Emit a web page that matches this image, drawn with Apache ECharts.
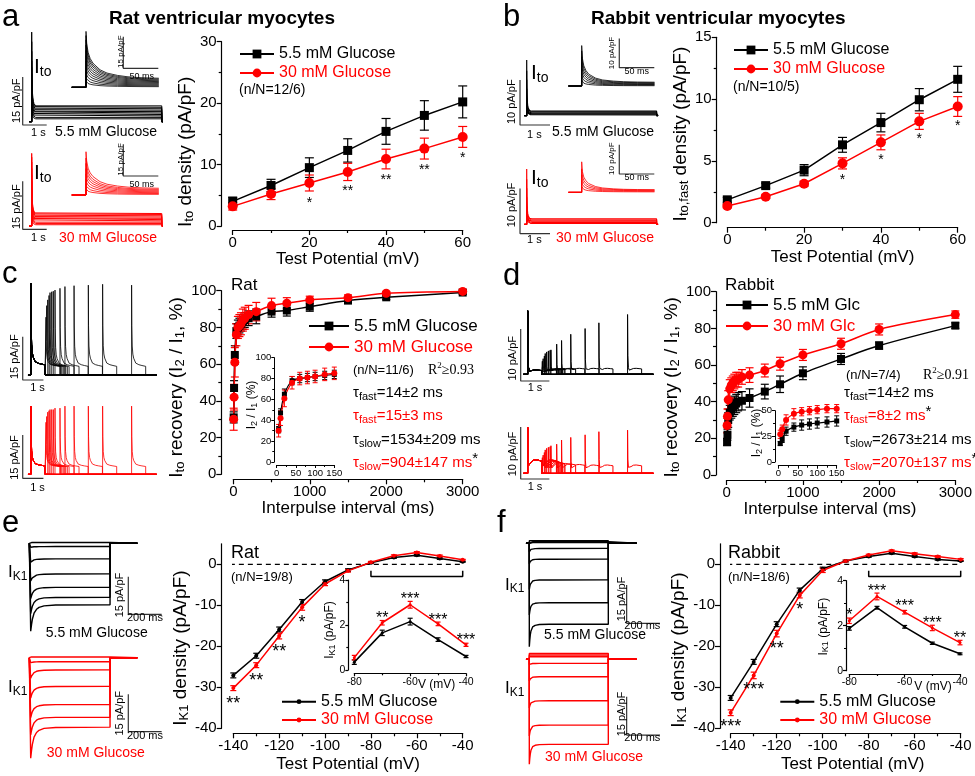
<!DOCTYPE html>
<html><head><meta charset="utf-8">
<script src="https://cdn.jsdelivr.net/npm/echarts@6/dist/echarts.min.js"></script>
<style>html,body{margin:0;padding:0;background:#fff}#c{width:975px;height:776px}</style>
</head><body><div id="c"></div>
<script>
const F = "'Liberation Sans', Arial, Helvetica, sans-serif";
const SERIF = "'Liberation Serif', 'Times New Roman', serif";
const BLK = '#000000', RED = '#ff0000', BAR = '#333333';

// ================= DATA =================
// a: rat Ito density
const aVolt = [0, 10, 20, 30, 40, 50, 60];
const aGlc5 = [4.0, 6.6, 9.5, 12.3, 15.4, 18.0, 20.2];
const aGlc5Err = [0.7, 1.0, 1.6, 1.9, 2.1, 2.4, 2.6];
const aGlc30 = [3.2, 5.2, 7.0, 8.8, 10.9, 12.6, 14.5];
const aGlc30Err = [0.6, 0.9, 1.3, 1.4, 1.6, 1.7, 1.7];
const aStarX = [20, 30, 40, 50, 60];
const aStarY = [4.2, 6.2, 8.0, 9.6, 11.6];
const aStarTxt = ['*', '**', '**', '**', '*'];
// b: rabbit Ito,fast density
const bVolt = [0, 10, 20, 30, 40, 50, 60];
const bGlc5 = [1.85, 3.0, 4.25, 6.3, 8.1, 9.95, 11.6];
const bGlc5Err = [0.2, 0.2, 0.45, 0.6, 0.75, 0.9, 1.05];
const bGlc30 = [1.35, 2.1, 3.15, 4.8, 6.5, 8.2, 9.4];
const bGlc30Err = [0.15, 0.15, 0.2, 0.45, 0.6, 0.65, 0.8];
const bStarX = [30, 40, 50, 60];
const bStarY = [3.7, 5.3, 7.0, 8.1];
const bStarTxt = ['*', '*', '*', '*'];
// c: rat recovery
const cInterval = [5, 10, 20, 40, 60, 80, 100, 125, 150, 200, 300, 500, 700, 1000, 1500, 2000, 3000];
const cGlc5 = [31, 47, 65, 78, 80, 81, 82, 83, 84, 85, 86, 88.6, 89.2, 91.3, 94.6, 96.4, 99];
const cGlc5Err = [3, 4, 5, 4, 4, 4, 4, 4, 4, 4, 4, 3, 3, 2.5, 1.5, 1.2, 1];
const cGlc30 = [30, 42, 61, 76, 80, 81, 82, 84, 85, 87, 88.6, 91.9, 93.2, 95, 96.2, 98.6, 99.6];
const cGlc30Err = [6, 7, 8, 6, 6, 6, 6, 6, 6, 5, 5, 4, 3, 2, 1.5, 1, 1];
// d: rabbit recovery
const dInterval = [5, 10, 20, 40, 60, 80, 100, 125, 150, 200, 300, 500, 700, 1000, 1500, 2000, 3000];
const dGlc5 = [18, 22, 30, 34, 36, 37, 38, 39, 40, 40.5, 42, 45.5, 49.5, 55.5, 63.3, 70.6, 81.5];
const dGlc5Err = [2, 3, 4, 4, 5, 5, 5, 5, 5, 5, 5, 4, 4.5, 3.5, 3, 2, 1.5];
const dGlc30 = [27, 32, 41, 47, 49, 50, 51, 52, 52, 53.5, 54.5, 57, 60.7, 65.5, 71.6, 79.4, 87.5];
const dGlc30Err = [4, 4, 5, 5, 4, 4, 4, 4, 4, 4, 4, 3.5, 3.5, 3, 3, 3, 2];
// e: rat IK1
const eVolt = [-140, -130, -120, -110, -100, -90, -80, -70, -60, -50, -40];
const eGlc5 = [-27.1, -22.3, -15.9, -9.2, -4.2, -1.4, 0.4, 1.65, 2.2, 1.4, 0.6];
const eGlc5Err = [0.6, 0.6, 0.6, 0.6, 0.4, 0.3, 0.2, 0.2, 0.2, 0.2, 0.1];
const eGlc30 = [-30.2, -24.6, -17.5, -10.5, -4.8, -1.6, 0.5, 2.1, 2.9, 2.05, 1.1];
const eGlc30Err = [0.6, 0.6, 0.7, 0.7, 0.4, 0.3, 0.2, 0.2, 0.2, 0.2, 0.1];
const eStarX = [-140, -130, -120, -110];
const eStarY = [-33.1, -27.4, -20.5, -13.2];
const eStarTxt = ['**', '**', '**', '*'];
const eInV = [-80, -70, -60, -50, -40];
const eIn5 = [0.35, 1.65, 2.15, 1.35, 0.6];
const eIn5Err = [0.1, 0.12, 0.15, 0.08, 0.05];
const eIn30 = [0.55, 2.1, 2.9, 2.05, 1.12];
const eIn30Err = [0.1, 0.1, 0.15, 0.08, 0.07];
const eInStarX = [-70, -60, -50, -40];
const eInStarY = [2.44, 3.29, 2.36, 1.47];
const eInStarTxt = ['**', '***', '***', '***'];
// f: rabbit IK1
const fVolt = [-140, -130, -120, -110, -100, -90, -80, -70, -60, -50, -40];
const fGlc5 = [-32.6, -23.8, -14.6, -6.3, -1.1, 0.8, 1.9, 2.7, 1.9, 1.2, 0.8];
const fGlc5Err = [0.6, 0.6, 0.6, 0.5, 0.4, 0.2, 0.2, 0.2, 0.2, 0.2, 0.1];
const fGlc30 = [-36.2, -27.1, -16.9, -7.6, -1.5, 0.8, 2.25, 3.3, 2.6, 1.9, 1.2];
const fGlc30Err = [0.7, 0.8, 0.8, 0.6, 0.5, 0.2, 0.2, 0.2, 0.2, 0.2, 0.2];
const fStarX = [-140, -130, -120, -110];
const fStarY = [-38.7, -29.6, -19.7, -10.2];
const fStarTxt = ['***', '***', '**', '*'];
const fInV = [-80, -70, -60, -50, -40];
const fIn5 = [1.88, 2.8, 1.95, 1.22, 0.75];
const fIn5Err = [0.08, 0.06, 0.06, 0.05, 0.04];
const fIn30 = [2.22, 3.3, 2.6, 1.9, 1.25];
const fIn30Err = [0.12, 0.15, 0.08, 0.12, 0.1];
const fInStarX = [-80, -70, -60, -50, -40];
const fInStarY = [2.62, 3.68, 3.0, 2.25, 1.58];
const fInStarTxt = ['*', '***', '***', '***', '**'];

// ---- raw current traces ----
// Ito decay (fraction of peak-to-plateau amplitude left) vs time after onset (ms)
const itoDecayT = [0, 1, 3, 6, 10, 20, 30, 45, 60, 80, 104];
const itoDecayA = [1, 0.75, 0.55, 0.42, 0.32, 0.18, 0.11, 0.06, 0.03, 0.01, 0];
const itoDecayB = [1, 0.65, 0.45, 0.32, 0.22, 0.11, 0.06, 0.03, 0.013, 0.004, 0];
const aTrPeak5 = [7, 9, 11, 13, 15, 17, 19, 22, 25, 28];
const aTrPlat5 = [0.9, 1.35, 1.8, 2.25, 2.7, 3.15, 3.6, 4.05, 4.5, 4.95];
const aTrPeak30 = [6, 8, 10, 12, 14, 16, 18, 20, 21.5, 22.7];
const aTrPlat30 = [0.4, 0.8, 1.2, 1.6, 2.0, 2.4, 2.8, 3.2, 3.6, 3.9];
const aInPeak5 = [3, 5, 7.5, 10, 12.5, 15, 17.5, 20, 22.5, 24.5, 26.5];
const aInPlat5 = [0.3, 0.7, 1.1, 1.5, 1.9, 2.3, 2.7, 3.1, 3.5, 3.9, 4.3];
const aInPeak30 = [3, 5, 7.5, 10, 12.5, 15, 17.5, 20.5];
const aInPlat30 = [0.3, 0.7, 1.1, 1.5, 1.9, 2.3, 2.7, 3.2];
const bTrPeak5 = [4, 6, 8, 10, 12.4];
const bTrPlat5 = [0.2, 0.4, 0.6, 0.8, 1.0];
const bTrPeak30 = [4, 6, 8, 10, 12.3];
const bTrPlat30 = [0.2, 0.45, 0.7, 0.95, 1.2];
const bInPeak5 = [2, 4, 6, 8, 10, 12, 13.8];
const bInPlat5 = [0.1, 0.3, 0.5, 0.7, 0.9, 1.1, 1.3];
const bInPeak30 = [2, 4, 6, 8, 10.4];
const bInPlat30 = [0.15, 0.35, 0.55, 0.75, 0.9];
// paired-pulse recovery traces (s, pA/pF)
const cPulseT = [0, 0.01, 0.03, 0.06, 0.1, 0.2, 0.35, 0.5, 0.68];
const cPulseSpike = [1, 0.5, 0.25, 0.15, 0.1, 0.04, 0.02, 0.01, 0];
const cPulsePlat = [0, 0.5, 0.75, 0.85, 0.9, 0.96, 0.98, 0.99, 1];
const cP2Time = [0.725, 0.758, 0.807, 0.87, 0.918, 1.0, 1.077, 1.16, 1.4, 1.64, 2.08, 2.77, 3.46, 4.86];
const cP2Peak5 = [20, 24, 26, 27.5, 28.5, 28.8, 29, 29.4, 30, 30.6, 30.9, 31.1, 31.4, 31.1];
const cP2Peak30 = [18, 20, 21.5, 22, 22.4, 22.4, 22.4, 22.9, 22.9, 23.6, 23.6, 23.6, 23.6, 23.6];
const cP1Peak5 = 31.7, cP1Plat5 = 3.5, cP2Plat5 = 3.0;
const cP1Peak30 = 23.6, cP1Plat30 = 2.9, cP2Plat30 = 2.7;
const dPulseT = [0, 0.01, 0.03, 0.06, 0.12, 0.2, 0.3, 0.4, 0.49];
const dPulseSpike = [1, 0.3, 0.08, 0.02, 0, 0, 0, 0, 0];
const dPulseHump = [0, 0.15, 0.3, 0.5, 0.8, 0.97, 1, 0.95, 0.9];
const dP2Time = [0.51, 0.54, 0.58, 0.61, 0.66, 0.72, 0.78, 0.81, 1.01, 1.18, 1.5, 2.0, 2.48, 3.48];
const dP2Peak5 = [2.5, 3, 3.5, 4, 4.3, 4.5, 4.6, 4.7, 5.8, 6.5, 7.7, 8.8, 9.9, 11.5];
const dP2Hump5 = [0.9, 0.9, 1, 1, 1, 1, 1.1, 1.1, 1.1, 1.15, 1.15, 1.15, 1.15, 1.15];
const dP2Peak30 = [3, 3.5, 4, 4.5, 4.8, 5, 5.1, 5.3, 5.6, 6.4, 6.9, 7.4, 8, 8.3];
const dP2Hump30 = [2.6, 2.6, 2.5, 2.4, 2.3, 2.2, 2.1, 2.0, 1.9, 1.8, 1.7, 1.6, 1.6, 1.6];
const dP1Peak5 = 12.2, dP1Hump5 = 0.8, dP1Peak30 = 8.8, dP1Hump30 = 2.6;
// IK1 step traces (ms, pA/pF)
const eTrPeak5 = [0.3, -1.6, -7.5, -15, -22, -28, -35];
const eTrSS5 = [0.3, -1.3, -6.2, -12.2, -17.5, -21.5, -24.5];
const eTrPeak30 = [0.3, -2, -8.2, -16.2, -24, -31, -40.4];
const eTrSS30 = [0.3, -1.6, -4.9, -11.5, -18.8, -23.9, -27.9];
const eRelaxT = [0, 5, 10, 20, 35, 50, 80, 150, 476];
const eRelaxF = [1, 0.75, 0.55, 0.32, 0.17, 0.1, 0.04, 0.01, 0];
const fTrPeak5 = [1.0, 0.6, 0.3, -3.3, -8, -18, -28, -40.4];
const fTrSS5 = [1.0, 0.6, 0.3, -2, -6.2, -14.3, -23.2, -31.6];
const fTrPeak30 = [2.3, 1.7, 1.0, -2, -8.5, -19, -30, -41];
const fTrSS30 = [2.3, 1.7, 1.0, -1.6, -6.8, -16.2, -25.7, -33.2];
const fRelaxT = [0, 3, 6, 10, 20, 35, 60, 120, 474];
const fRelaxF = [1, 0.7, 0.48, 0.3, 0.12, 0.05, 0.015, 0.003, 0];

const legendLabel = {a5: '5.5 mM Glucose', a30: '30 mM Glucose', b5: '5.5 mM Glucose', b30: '30 mM Glucose',
  c5: '5.5 mM Glucose', c30: '30 mM Glucose', d5: '5.5 mM Glc', d30: '30 mM Glc',
  e5: '5.5 mM Glucose', e30: '30 mM Glucose', f5: '5.5 mM Glucose', f30: '30 mM Glucose'};

// ================= BUILD =================
const option = {animation: false, backgroundColor: '#ffffff', textStyle: {fontFamily: F},
  grid: [], xAxis: [], yAxis: [], series: [], legend: [], graphic: []};

function ax(o) {
  const fs = o.fs || 15, lw = o.lw || 1.2;
  const a = {
    type: 'value', min: o.min, max: o.max, interval: o.interval, offset: o.offset || 0,
    axisLine: {show: true, onZero: false, lineStyle: {color: '#000', width: lw}},
    axisTick: {show: true, inside: false, length: o.tl || 5, lineStyle: {color: '#000', width: lw}},
    minorTick: {show: o.minor !== false, splitNumber: 2, length: o.mtl || 3, lineStyle: {color: '#000', width: lw}},
    splitLine: {show: false}, minorSplitLine: {show: false},
    axisLabel: {show: true, color: '#000', fontSize: fs, fontFamily: F, margin: o.margin || 5, formatter: v => String(v)},
    name: o.name || '', nameLocation: 'middle', nameGap: o.nameGap || 20
  };
  if (o.custom) { a.axisTick.customValues = o.custom; a.axisLabel.customValues = o.custom; a.minorTick.show = false; }
  const nfs = o.nfs || (o.rot ? 19 : 17);
  a.nameTextStyle = {fontSize: nfs, fontFamily: F, color: '#000', padding: o.pad || [0, 0, 0, 0],
    rich: {i: {fontSize: nfs, fontFamily: F, color: '#000'},
           s: {fontSize: o.sfs || 13, fontFamily: F, color: '#000', padding: [8, 0, 0, 0]}}};
  if (o.rot) a.nameRotate = o.rot;
  return a;
}
function addGrid(r, xo, yo) {
  const gi = option.grid.length;
  option.grid.push({left: r[0], top: r[1], width: r[2], height: r[3]});
  option.xAxis.push(Object.assign({gridIndex: gi}, xo));
  option.yAxis.push(Object.assign({gridIndex: gi}, yo));
  return gi;
}
function traceGrid(x0, y0, sx, sy, xr, yr) {
  const gi = option.grid.length;
  option.grid.push({left: x0 + xr[0] * sx, top: y0 - yr[1] * sy, width: (xr[1] - xr[0]) * sx, height: (yr[1] - yr[0]) * sy});
  option.xAxis.push({gridIndex: gi, type: 'value', min: xr[0], max: xr[1], show: false});
  option.yAxis.push({gridIndex: gi, type: 'value', min: yr[0], max: yr[1], show: false});
  return gi;
}
function lineS(gi, name, pts, color, o) {
  o = o || {};
  option.series.push({type: 'line', name: name, xAxisIndex: gi, yAxisIndex: gi, data: pts,
    symbol: o.symbol || 'none', symbolSize: o.size || 0, showSymbol: !!o.symbol, showAllSymbol: true,
    smooth: o.smooth || false, lineStyle: {color: color, width: o.lw || 1.5, type: o.dash || 'solid'},
    itemStyle: {color: color}, z: o.z || 3, silent: true, clip: false, emphasis: {disabled: true}});
}
function pairs(xs, ys) { return xs.map((x, i) => [x, ys[i]]); }
function errS(gi, xs, ys, es, color, cap, lw) {
  option.series.push({type: 'custom', xAxisIndex: gi, yAxisIndex: gi, silent: true, z: 2, clip: false,
    data: xs.map((x, i) => [x, ys[i] - es[i], ys[i] + es[i]]),
    encode: {x: 0, y: [1, 2]},
    renderItem: function (p, api) {
      const x = api.value(0);
      const lo = api.coord([x, api.value(1)]), hi = api.coord([x, api.value(2)]);
      const st = {stroke: color, lineWidth: lw || 1.2};
      return {type: 'group', children: [
        {type: 'line', shape: {x1: lo[0], y1: lo[1], x2: hi[0], y2: hi[1]}, style: st},
        {type: 'line', shape: {x1: lo[0] - cap, y1: lo[1], x2: lo[0] + cap, y2: lo[1]}, style: st},
        {type: 'line', shape: {x1: hi[0] - cap, y1: hi[1], x2: hi[0] + cap, y2: hi[1]}, style: st}]};
    }});
}
function starS(gi, xs, ys, txt, color, fs) {
  option.series.push({type: 'custom', xAxisIndex: gi, yAxisIndex: gi, silent: true, z: 6, clip: false,
    data: xs.map((x, i) => [x, ys[i], i]),
    renderItem: function (p, api) {
      const c = api.coord([api.value(0), api.value(1)]);
      return {type: 'text', x: c[0], y: c[1] + 0.23 * fs,
        style: {text: txt[api.value(2)], fill: color, fontSize: fs, fontFamily: F, align: 'center', verticalAlign: 'middle'}};
    }});
}
function legendAt(left, top, gap, fs, w, h, names) {
  option.legend.push({left: left, top: top, orient: 'vertical', padding: 0, itemGap: gap, itemWidth: w, itemHeight: h,
    selectedMode: false, formatter: n => legendLabel[n], textStyle: {fontSize: fs, fontFamily: F, color: '#000'},
    data: names.map(n => ({name: n, textStyle: {color: n.endsWith('30') ? RED : BLK, fontSize: fs, fontFamily: F}}))});
}
function txt(x, y, text, o) {
  o = o || {};
  const st = {text: text, fill: o.color || '#000', fontSize: o.fs || 14, fontFamily: o.ff || F,
    fontWeight: o.fw || 'normal', align: o.align || 'left', verticalAlign: o.va || 'middle'};
  if (o.rich) st.rich = o.rich;
  option.graphic.push({type: 'text', x: x, y: y, rotation: o.rot || 0, silent: true, z: 100, style: st});
}
function rich(fs, sfs, color, ff) {
  return {n: {fontSize: fs, fontFamily: ff || F, fill: color},
          s: {fontSize: sfs, fontFamily: ff || F, fill: color, padding: [Math.round(fs * 0.45), 0, 0, 0]},
          p: {fontSize: fs, fontFamily: ff || F, fill: '#000', padding: [0, 0, Math.round(fs * 0.6), 0]},
          q: {fontSize: sfs, fontFamily: ff || F, fill: color, padding: [0, 0, Math.round(fs * 0.6), 0]}};
}
function meanSeries(gi, nm, xs, ys, es, color, sym, size, cap, o) {
  o = o || {};
  errS(gi, xs, ys, es, color, cap, o.elw || 1.2);
  lineS(gi, nm, pairs(xs, ys), color, {symbol: sym, size: size, lw: o.lw || 1.5, smooth: o.smooth || false, z: 4});
}

// ---------- panel a ----------
const gA = addGrid([232.7, 41.7, 230, 184.3],
  ax({min: 0, max: 60, interval: 20, offset: 4, name: 'Test Potential (mV)', nameGap: 19}),
  ax({min: 0, max: 30, interval: 10, offset: 11, name: '{i|I}{s|to}{i| density (pA/pF)}', rot: 90, nameGap: 22, pad: [0, 36, 0, 0]}));
meanSeries(gA, 'a5', aVolt, aGlc5, aGlc5Err, BLK, 'rect', 9, 4.5);
meanSeries(gA, 'a30', aVolt, aGlc30, aGlc30Err, RED, 'circle', 10, 4.5);
starS(gA, aStarX, aStarY, aStarTxt, BLK, 14);
legendAt(239, 46, 3, 16, 34, 11, ['a5', 'a30']);

// ---------- panel b ----------
const gB = addGrid([727.3, 37.3, 230.4, 185.4],
  ax({min: 0, max: 60, interval: 20, offset: 5, name: 'Test Potential (mV)', nameGap: 21}),
  ax({min: 0, max: 15, interval: 5, offset: 10.6, name: '{i|I}{s|to,fast}{i| density (pA/pF)}', rot: 90, nameGap: 24, pad: [0, 8, 0, 0]}));
meanSeries(gB, 'b5', bVolt, bGlc5, bGlc5Err, BLK, 'rect', 9, 4.5);
meanSeries(gB, 'b30', bVolt, bGlc30, bGlc30Err, RED, 'circle', 10, 4.5);
starS(gB, bStarX, bStarY, bStarTxt, BLK, 14);
legendAt(733, 42, 3, 16, 34, 11, ['b5', 'b30']);

// ---------- panel c ----------
const gC = addGrid([233.3, 290.7, 229.4, 183.6],
  ax({min: 0, max: 3000, interval: 1000, offset: 5, name: 'Interpulse interval (ms)', nameGap: 21}),
  ax({min: 0, max: 100, interval: 20, offset: 12, name: '{i|I}{s|to}{i| recovery (I}{s|2}{i| / I}{s|1}{i|, %)}', rot: 90, nameGap: 28, pad: [0, 10, 0, 0]}));
meanSeries(gC, 'c5', cInterval, cGlc5, cGlc5Err, BLK, 'rect', 8, 4, {smooth: 0.3});
meanSeries(gC, 'c30', cInterval, cGlc30, cGlc30Err, RED, 'circle', 9, 4, {smooth: 0.3});
legendAt(308, 317.5, 4, 17, 40, 11, ['c5', 'c30']);
const cShort = cInterval.filter(v => v <= 150).length;
const gCi = addGrid([276.7, 357.7, 57.6, 104.3],
  ax({min: 0, max: 150, interval: 50, offset: 3, fs: 9.5, lw: 1, tl: 3, mtl: 2, margin: 3}),
  ax({min: 0, max: 100, interval: 20, offset: 2.4, fs: 9.5, lw: 1, tl: 3, mtl: 2, margin: 3}));
meanSeries(gCi, 'ci5', cInterval.slice(0, cShort), cGlc5.slice(0, cShort), cGlc5Err.slice(0, cShort), BLK, 'rect', 5, 2.5, {lw: 1.2, elw: 1, smooth: 0.3});
meanSeries(gCi, 'ci30', cInterval.slice(0, cShort), cGlc30.slice(0, cShort), cGlc30Err.slice(0, cShort), RED, 'circle', 6, 2.5, {lw: 1.2, elw: 1, smooth: 0.3});

// ---------- panel d ----------
const gD = addGrid([726.7, 291.7, 230, 183.3],
  ax({min: 0, max: 3000, interval: 1000, offset: 5, name: 'Interpulse interval (ms)', nameGap: 19, pad: [0, 22, 0, 0]}),
  ax({min: 0, max: 100, interval: 20, offset: 10.7, name: '{i|I}{s|to}{i| recovery (I}{s|2}{i| / I}{s|1}{i|, %)}', rot: 90, nameGap: 25, pad: [0, 8, 0, 0]}));
meanSeries(gD, 'd5', dInterval, dGlc5, dGlc5Err, BLK, 'rect', 8, 4, {smooth: 0.3});
meanSeries(gD, 'd30', dInterval, dGlc30, dGlc30Err, RED, 'circle', 9, 4, {smooth: 0.3});
legendAt(725, 296.5, 4, 17, 42, 11, ['d5', 'd30']);
const dShort = dInterval.filter(v => v <= 150).length;
const gDi = addGrid([778.3, 410.7, 58.4, 51.3],
  ax({min: 0, max: 150, interval: 50, offset: 3.7, fs: 9.5, lw: 1, tl: 3, mtl: 2, margin: 3}),
  ax({min: 0, max: 50, interval: 25, offset: 3.3, fs: 9.5, lw: 1, tl: 3, mtl: 2, margin: 3}));
meanSeries(gDi, 'di5', dInterval.slice(0, dShort), dGlc5.slice(0, dShort), dGlc5Err.slice(0, dShort), BLK, 'rect', 5, 2.5, {lw: 1.2, elw: 1, smooth: 0.3});
meanSeries(gDi, 'di30', dInterval.slice(0, dShort), dGlc30.slice(0, dShort), dGlc30Err.slice(0, dShort), RED, 'circle', 6, 2.5, {lw: 1.2, elw: 1, smooth: 0.3});

// ---------- panel e ----------
const ikTicks = [-40, -30, -20, -10, 0];
const gE = addGrid([233.3, 543.8, 229.4, 184.5],
  ax({min: -140, max: -40, interval: 20, offset: 5, name: 'Test Potential (mV)', nameGap: 23}),
  ax({min: -40, max: 5, interval: 10, offset: 11.6, custom: ikTicks, name: '{i|I}{s|K1}{i| density (pA/pF)}', rot: 90, nameGap: 23, pad: [0, 24, 0, 0]}));
lineS(gE, '', [[-141.5, 0], [-40, 0]], BLK, {lw: 1.2, dash: [5, 4], z: 1});
lineS(gE, '', [[-80, -1.6], [-80, -3], [-40, -3], [-40, -1.6]], BLK, {lw: 1.5, z: 1});
meanSeries(gE, 'e5', eVolt, eGlc5, eGlc5Err, BLK, 'circle', 4, 3);
meanSeries(gE, 'e30', eVolt, eGlc30, eGlc30Err, RED, 'circle', 4, 3);
starS(gE, eStarX, eStarY, eStarTxt, BLK, 18);
legendAt(281, 693.7, 2.3, 16, 34, 6, ['e5', 'e30']);
const gEi = addGrid([354.3, 580, 111.7, 90],
  ax({min: -80, max: -40, interval: 20, offset: 3.3, fs: 10.5, lw: 1.2, tl: 3, mtl: 2, margin: 3}),
  ax({min: 0, max: 4, interval: 2, offset: 6, fs: 10.5, lw: 1.2, tl: 3, mtl: 2, margin: 3}));
meanSeries(gEi, 'ei5', eInV, eIn5, eIn5Err, BLK, 'circle', 3, 2.5, {lw: 1.5});
meanSeries(gEi, 'ei30', eInV, eIn30, eIn30Err, RED, 'circle', 3, 2.5, {lw: 1.5});
starS(gEi, eInStarX, eInStarY, eInStarTxt, BLK, 16);

// ---------- panel f ----------
const gF = addGrid([730.7, 543.8, 230, 184.5],
  ax({min: -140, max: -40, interval: 20, offset: 5, name: 'Test Potential (mV)', nameGap: 23, pad: [0, 0, 0, 14]}),
  ax({min: -40, max: 5, interval: 10, offset: 10.7, custom: ikTicks, name: '{i|I}{s|K1}{i| density (pA/pF)}', rot: 90, nameGap: 26, pad: [0, 28, 0, 0]}));
lineS(gF, '', [[-141.5, 0], [-40, 0]], BLK, {lw: 1.2, dash: [5, 4], z: 1});
lineS(gF, '', [[-80, -1.6], [-80, -3], [-40, -3], [-40, -1.6]], BLK, {lw: 1.5, z: 1});
meanSeries(gF, 'f5', fVolt, fGlc5, fGlc5Err, BLK, 'circle', 4, 3);
meanSeries(gF, 'f30', fVolt, fGlc30, fGlc30Err, RED, 'circle', 4, 3);
starS(gF, fStarX, fStarY, fStarTxt, BLK, 18);
legendAt(779.3, 693.7, 2.3, 16, 34, 6, ['f5', 'f30']);
const gFi = addGrid([849.3, 580.7, 110.7, 90],
  ax({min: -80, max: -40, interval: 20, offset: 3.3, fs: 10.5, lw: 1.2, tl: 3, mtl: 2, margin: 3}),
  ax({min: 0, max: 4, interval: 2, offset: 3.3, fs: 10.5, lw: 1.2, tl: 3, mtl: 2, margin: 3}));
meanSeries(gFi, 'fi5', fInV, fIn5, fIn5Err, BLK, 'circle', 3, 2.5, {lw: 1.5});
meanSeries(gFi, 'fi30', fInV, fIn30, fIn30Err, RED, 'circle', 3, 2.5, {lw: 1.5});
starS(gFi, fInStarX, fInStarY, fInStarTxt, BLK, 16);

// ================= TRACES =================
function itoTrace(peak, plat, T, Fr, tScale, tPre, tEnd, back) {
  const pts = [[tPre, 0], [0, 0]];
  for (let i = 0; i < T.length; i++) pts.push([T[i] * tScale, plat + (peak - plat) * Fr[i]]);
  pts.push([tEnd, plat]);
  if (back) pts.push([tEnd, 0], [tEnd + 0.05, 0]);
  return pts;
}
function pulse(tOn, peak, plat, T, S, P) {
  const pts = [[tOn, 0]];
  for (let i = 0; i < T.length; i++) pts.push([tOn + T[i], peak * S[i] + plat * P[i]]);
  pts.push([tOn + T[T.length - 1], 0]);
  return pts;
}
function ik1Trace(pk, ss, T, Fr, tPre, tEnd) {
  const pts = [[tPre, 0], [0, 0]];
  for (let i = 0; i < T.length; i++) pts.push([T[i], ss + (pk - ss) * Fr[i]]);
  pts.push([T[T.length - 1], 0], [tEnd, 0]);
  return pts;
}
function bar(gi, t0, v0, dt, dv) { lineS(gi, '', [[t0, v0 + dv], [t0, v0], [t0 + dt, v0]], BAR, {lw: 1.2, z: 2}); }
function tr(gi, pts, color, lw) { lineS(gi, '', pts, color, {lw: lw || 1, z: 2}); }

// a traces
[[121.7, aTrPeak5, aTrPlat5, BLK], [226, aTrPeak30, aTrPlat30, RED]].forEach(function (d) {
  const g = traceGrid(31.7, d[0], 24, 3.2, [-0.45, 5.6], [-1.5, 29]);
  d[1].forEach((pk, i) => tr(g, itoTrace(pk, d[2][i], itoDecayT, itoDecayA, 0.0016, -0.1, 5.42, true), d[3], 1));
  bar(g, -0.375, -1.03, 1, 15);
});
[[87.3, aInPeak5, aInPlat5, BLK], [195, aInPeak30, aInPlat30, RED]].forEach(function (d) {
  const g = traceGrid(86, d[0], 0.7, 2.11, [-22, 106], [-1, 27]);
  d[1].forEach((pk, i) => tr(g, itoTrace(pk, d[2][i], itoDecayT, itoDecayA, 1, -20.4, 104, false), d[3], 0.8));
  bar(g, 53.3, 9.0, 50, 15);
});
// b traces
[[115.7, bTrPeak5, bTrPlat5, BLK], [224.3, bTrPeak30, bTrPlat30, RED]].forEach(function (d) {
  const g = traceGrid(526.7, d[0], 30, 4.5, [-0.25, 4.4], [-2.2, 13]);
  d[1].forEach((pk, i) => tr(g, itoTrace(pk, d[2][i], itoDecayT, itoDecayB, 0.0016, -0.08, 4.33, true), d[3], 1.2));
  bar(g, -0.223, -2.07, 1, 10);
});
[[86, bInPeak5, bInPlat5, BLK], [192.3, bInPeak30, bInPlat30, RED]].forEach(function (d) {
  const g = traceGrid(581.7, d[0], 0.7, 2.93, [-21, 106], [-1, 17]);
  d[1].forEach((pk, i) => tr(g, itoTrace(pk, d[2][i], itoDecayT, itoDecayB, 1, -19, 103.7, false), d[3], 0.8));
  bar(g, 53.7, 6.25, 50, 10);
});
// c traces
[[375, cP1Peak5, cP1Plat5, cP2Peak5, cP2Plat5, BLK, -1.73], [474.3, cP1Peak30, cP1Plat30, cP2Peak30, cP2Plat30, RED, -1.38]].forEach(function (d) {
  const g = traceGrid(31, d[0], 20.7, 2.89, [-0.45, 6.2], [-2, 32.5]);
  cP2Time.forEach(function (t2, i) {
    const pts = [[-0.145, 0]].concat(pulse(0, d[1], d[2], cPulseT, cPulseSpike, cPulsePlat),
      pulse(t2, d[3][i], d[4], cPulseT, cPulseSpike, cPulsePlat), [[6.07, 0]]);
    tr(g, pts, d[5], 0.8);
  });
  bar(g, -0.4, d[6], 1, 15);
});
// d traces
[[374.3, dP1Peak5, dP1Hump5, dP2Peak5, dP2Hump5, BLK, -1.29], [473.3, dP1Peak30, dP1Hump30, dP2Peak30, dP2Hump30, RED, -1.1]].forEach(function (d) {
  const g = traceGrid(527.7, d[0], 28.7, 5.2, [-0.3, 4.45], [-1.5, 12.5]);
  dP2Time.forEach(function (t2, i) {
    const pts = [[-0.15, 0]].concat(pulse(0, d[1], d[2], dPulseT, dPulseSpike, dPulseHump),
      pulse(t2, d[3][i], d[4][i], dPulseT, dPulseSpike, dPulseHump), [[4.38, 0]]);
    tr(g, pts, d[5], 1);
  });
  bar(g, -0.244, d[6], 1, 10);
});
// e traces
[[543.3, 2.51, eTrPeak5, eTrSS5, BLK, -28.3], [657.7, 2.49, eTrPeak30, eTrSS30, RED, -29.7]].forEach(function (d) {
  const g = traceGrid(30.7, d[0], 0.1667, d[1], [-10, 800], [-41, 1.5]);
  d[2].forEach((pk, i) => tr(g, ik1Trace(pk, d[3][i], eRelaxT, eRelaxF, -8.4, 640), d[4], 1.4));
  bar(g, 585.5, d[5], 200, 15);
});
// f traces
[[543.3, fTrPeak5, fTrSS5, BLK, -31.25], [659.3, fTrPeak30, fTrSS30, RED, -29.6]].forEach(function (d) {
  const g = traceGrid(529.3, d[0], 0.1667, 2.56, [-22, 800], [-42, 2.5]);
  d[1].forEach((pk, i) => tr(g, ik1Trace(pk, d[2][i], fRelaxT, fRelaxF, -20, 644), d[3], 1.4));
  bar(g, 584, d[4], 200, 15);
});

// ================= TEXT =================
[['a', 2, 33], ['b', 503, 33], ['c', 2, 290], ['d', 503, 292], ['e', 2, 539], ['f', 497, 539]].forEach(function (l) {
  txt(l[1], l[2], l[0], {fs: 31, va: 'bottom'});
});
txt(222, 19, 'Rat ventricular myocytes', {fs: 19, fw: 'bold', align: 'center'});
txt(718.3, 19, 'Rabbit ventricular myocytes', {fs: 19, fw: 'bold', align: 'center'});

const R21k = rich(21, 14, BLK);
// a
txt(34, 67.5, '{n|I}{s|to}', {rich: R21k});
txt(34, 173.3, '{n|I}{s|to}', {rich: R21k});
txt(16.7, 100.8, '15 pA/pF', {fs: 11, align: 'center', rot: Math.PI / 2});
txt(16.7, 206.7, '15 pA/pF', {fs: 11, align: 'center', rot: Math.PI / 2});
txt(120.7, 51.7, '15 pA/pF', {fs: 8, align: 'center', rot: Math.PI / 2});
txt(120.7, 159.4, '15 pA/pF', {fs: 8, align: 'center', rot: Math.PI / 2});
txt(141.7, 77, '50 ms', {fs: 9, align: 'center'});
txt(141.7, 184.7, '50 ms', {fs: 9, align: 'center'});
txt(38.3, 133.3, '1 s', {fs: 11, align: 'center'});
txt(38.3, 238.3, '1 s', {fs: 11, align: 'center'});
txt(157, 132.3, '5.5 mM Glucose', {fs: 14, align: 'right'});
txt(157, 238.3, '30 mM Glucose', {fs: 14, align: 'right', color: RED});
txt(239, 90, '(n/N=12/6)', {fs: 14});
// b
txt(531, 73.3, '{n|I}{s|to}', {rich: R21k});
txt(531, 178.3, '{n|I}{s|to}', {rich: R21k});
txt(511.7, 101.7, '10 pA/pF', {fs: 11, align: 'center', rot: Math.PI / 2});
txt(511.7, 205, '10 pA/pF', {fs: 11, align: 'center', rot: Math.PI / 2});
txt(611.7, 53, '10 pA/pF', {fs: 8, align: 'center', rot: Math.PI / 2});
txt(611.7, 158.7, '10 pA/pF', {fs: 8, align: 'center', rot: Math.PI / 2});
txt(636.7, 72, '50 ms', {fs: 9, align: 'center'});
txt(636.7, 177.7, '50 ms', {fs: 9, align: 'center'});
txt(534.3, 135, '1 s', {fs: 11, align: 'center'});
txt(534.3, 240, '1 s', {fs: 11, align: 'center'});
txt(654, 132.3, '5.5 mM Glucose', {fs: 14, align: 'right'});
txt(654, 238.3, '30 mM Glucose', {fs: 14, align: 'right', color: RED});
txt(733, 87, '(n/N=10/5)', {fs: 14});
// c
txt(15, 356.7, '15 pA/pF', {fs: 11, align: 'center', rot: Math.PI / 2});
txt(15, 457.5, '15 pA/pF', {fs: 11, align: 'center', rot: Math.PI / 2});
txt(37.5, 388.3, '1 s', {fs: 11, align: 'center'});
txt(37.5, 487.7, '1 s', {fs: 11, align: 'center'});
txt(231, 285, 'Rat', {fs: 17});
txt(353, 370, '(n/N=11/6)', {fs: 13});
txt(428, 370, '{n|R}{q|2}{n|≥0.93}', {rich: rich(14, 9, BLK, SERIF)});
const R15k = rich(15, 11, BLK), R15r = rich(15, 11, RED);
txt(353, 393, '{n|τ}{s|fast}{n|=14±2 ms}', {rich: R15k});
txt(353, 416, '{n|τ}{s|fast}{n|=15±3 ms}', {rich: R15r});
txt(353, 440, '{n|τ}{s|slow}{n|=1534±209 ms}', {rich: R15k});
txt(353, 463, '{n|τ}{s|slow}{n|=904±147 ms}{p|*}', {rich: R15r});
txt(252, 405, '{n|I}{s|2}{n| / I}{s|1}{n| (%)}', {rich: rich(12, 9, BLK), align: 'center', rot: Math.PI / 2});
// d
txt(512.7, 358.3, '10 pA/pF', {fs: 11, align: 'center', rot: Math.PI / 2});
txt(512.7, 454, '10 pA/pF', {fs: 11, align: 'center', rot: Math.PI / 2});
txt(535, 388.3, '1 s', {fs: 11, align: 'center'});
txt(535, 487.3, '1 s', {fs: 11, align: 'center'});
txt(725, 285, 'Rabbit', {fs: 17});
txt(846, 375, '(n/N=7/4)', {fs: 13});
txt(923, 375, '{n|R}{q|2}{n|≥0.91}', {rich: rich(14, 9, BLK, SERIF)});
txt(844, 393, '{n|τ}{s|fast}{n|=14±2 ms}', {rich: R15k});
txt(844, 416, '{n|τ}{s|fast}{n|=8±2 ms}{p|*}', {rich: R15r});
txt(844, 440, '{n|τ}{s|slow}{n|=2673±214 ms}', {rich: R15k});
txt(844, 463, '{n|τ}{s|slow}{n|=2070±137 ms}{p|*}', {rich: R15r});
txt(756.7, 433, '{n|I}{s|2}{n| / I}{s|1}{n| (%)}', {rich: rich(12, 9, BLK), align: 'center', rot: Math.PI / 2});
// e
const R17k = rich(17, 12, BLK);
txt(8, 572.5, '{n|I}{s|K1}', {rich: R17k});
txt(8, 687.5, '{n|I}{s|K1}', {rich: R17k});
txt(120, 595, '15 pA/pF', {fs: 11, align: 'center', rot: Math.PI / 2});
txt(120, 713.3, '15 pA/pF', {fs: 11, align: 'center', rot: Math.PI / 2});
txt(145, 617.5, '200 ms', {fs: 11, align: 'center'});
txt(145, 735.5, '200 ms', {fs: 11, align: 'center'});
txt(96.7, 633.3, '5.5 mM Glucose', {fs: 14, align: 'center'});
txt(95.8, 753.3, '30 mM Glucose', {fs: 14, align: 'center', color: RED});
txt(231, 553, 'Rat', {fs: 18});
txt(231, 577, '(n/N=19/8)', {fs: 13});
txt(330, 630, '{n|I}{s|K1}{n| (pA/pF)}', {rich: rich(12, 9, BLK), align: 'center', rot: Math.PI / 2});
txt(436.7, 685, 'V (mV)', {fs: 12, align: 'center'});
// f
txt(505, 585, '{n|I}{s|K1}', {rich: R17k});
txt(505, 688.3, '{n|I}{s|K1}', {rich: R17k});
txt(621.7, 599, '15 pA/pF', {fs: 11, align: 'center', rot: Math.PI / 2});
txt(621.7, 714, '15 pA/pF', {fs: 11, align: 'center', rot: Math.PI / 2});
txt(642.3, 626, '200 ms', {fs: 11, align: 'center'});
txt(642.3, 738, '200 ms', {fs: 11, align: 'center'});
txt(595, 635, '5.5 mM Glucose', {fs: 14, align: 'center'});
txt(594, 756.7, '30 mM Glucose', {fs: 14, align: 'center', color: RED});
txt(728, 553, 'Rabbit', {fs: 18});
txt(728, 577, '(n/N=18/6)', {fs: 13});
txt(823.3, 626.7, '{n|I}{s|K1}{n| (pA/pF)}', {rich: rich(12, 9, BLK), align: 'center', rot: Math.PI / 2});
txt(933, 686.7, 'V (mV)', {fs: 12, align: 'center'});

const chart = echarts.init(document.getElementById('c'), null, {renderer: 'canvas', width: 975, height: 776});
chart.setOption(option);
</script></body></html>
